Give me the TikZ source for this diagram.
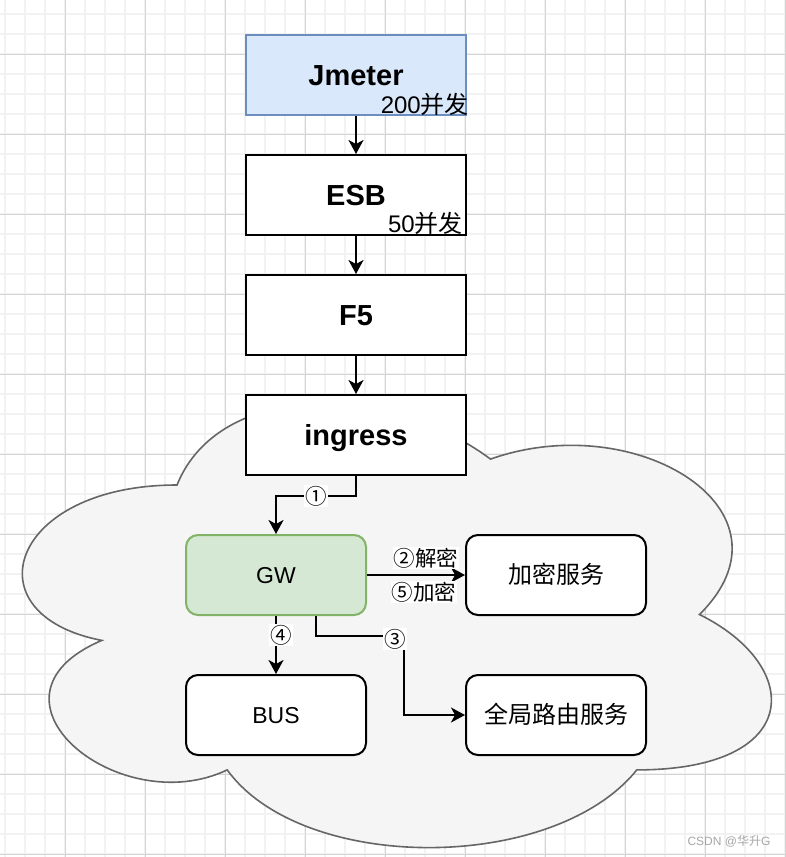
\documentclass[tikz,border=0pt]{standalone}
\usepackage{xcolor}
\usepackage{fontspec}
\setmainfont{Liberation Sans}
\newfontfamily\cjk{Noto Sans CJK SC}
\usepackage{tikz}
\usetikzlibrary{arrows.meta}
\definecolor{jmfill}{HTML}{DAE8FC}
\definecolor{jmline}{HTML}{6C8EBF}
\definecolor{gwfill}{HTML}{D5E8D4}
\definecolor{gwline}{HTML}{82B366}
\definecolor{cloudfill}{HTML}{F5F5F5}
\definecolor{cloudline}{HTML}{666666}
\definecolor{gridminor}{HTML}{F2F2F2}
\definecolor{gridmajor}{HTML}{D4D4D4}

\tikzset{
  mainbox/.style={draw=black, fill=white, line width=2pt, inner sep=0pt,
    minimum width=220pt, minimum height=80pt, text height=20.8pt, text depth=0pt,
    font=\bfseries\fontsize{29}{33}\selectfont},
  svcbox/.style={draw=black, fill=white, line width=2pt, inner sep=0pt,
    rounded corners=12pt, minimum width=180pt, minimum height=80pt,
    text height=16.5pt, text depth=0pt, font=\fontsize{23}{27}\selectfont},
  cjkbox/.style={svcbox, font=\cjk\fontsize{24}{28}\selectfont},
  flow/.style={draw, line width=2pt, -{Stealth[length=14pt, width=15pt, inset=4pt]}},
  lbl/.style={fill=white, inner sep=1pt, font=\cjk\fontsize{21.5}{24}\selectfont},
  cnt/.style={anchor=base east, inner sep=0pt, font=\fontsize{24}{28}\selectfont}
}

\begin{document}
\begin{tikzpicture}[x=1pt, y=-1pt]
\useasboundingbox (0,0) rectangle (785,857);
\fill[white] (0,0) rectangle (785,857);

% grid
\foreach \gx in {5,25,...,785} \draw[gridminor, line width=1.6pt] (\gx,0) -- (\gx,857);
\foreach \gy in {14,34,...,857} \draw[gridminor, line width=1.6pt] (0,\gy) -- (785,\gy);
\foreach \gx in {65,145,...,785} \draw[gridmajor, line width=0.9pt] (\gx,0) -- (\gx,857);
\foreach \gy in {54,134,...,857} \draw[gridmajor, line width=0.9pt] (0,\gy) -- (785,\gy);

% cloud
\draw[fill=cloudfill, draw=cloudline, line width=1.6pt]
  (177,485) .. controls (9.8,485) and (-32,614.5) .. (101.8,640.4)
  .. controls (-32,697.4) and (118.5,821.7) .. (227.2,769.9)
  .. controls (302.4,873.5) and (553.2,873.5) .. (636.8,769.9)
  .. controls (804,769.9) and (804,666.3) .. (699.5,614.5)
  .. controls (804,510.9) and (636.8,407.3) .. (490.5,459.1)
  .. controls (386,381.4) and (218.8,381.4) .. (177,485) -- cycle;

% chain
\node[mainbox, fill=jmfill, draw=jmline] (jmeter) at (356,75) {Jmeter};
\node[mainbox] (esb) at (356,195) {ESB};
\node[mainbox] (ffive) at (356,315) {F5};
\node[mainbox] (ingress) at (356,435) {ingress};

\node[cnt] (jmcnt) at (469,113) {200{\cjk 并发}};
\node[cnt] (esbcnt) at (463,232) {50{\cjk 并发}};

% services
\node[svcbox, fill=gwfill, draw=gwline] (gw) at (276,575) {GW};
\node[cjkbox] (enc) at (556,575) {加密服务};
\node[svcbox] (bus) at (276,715) {BUS};
\node[cjkbox] (route) at (556,715) {全局路由服务};

% connectors
\draw[flow] (jmeter) -- (esb);
\draw[flow] (esb) -- (ffive);
\draw[flow] (ffive) -- (ingress);
\draw[flow] (ingress.south) -- ++(0,20) -| node[lbl, pos=0.25] {①} (gw.north);
\draw[flow] (gw.east) -- (enc.west)
  node[lbl, pos=0.6, above=5pt] {②解密}
  node[lbl, pos=0.58, below=5pt] {⑤加密};
\draw[flow] (gw.south) -- node[lbl, pos=0.33, xshift=5pt] {④} (bus.north);
\draw[flow] ([xshift=40pt]gw.south) -- ++(0,20) -| node[lbl, pos=0.45, yshift=-3pt] {③}
  ([xshift=-61pt]route.west) -- (route.west);

\node[text=gray!70, font=\fontsize{12}{14}\selectfont] (mark) at (729,841) {CSDN @{\cjk 华升}G};
\end{tikzpicture}
\end{document}
